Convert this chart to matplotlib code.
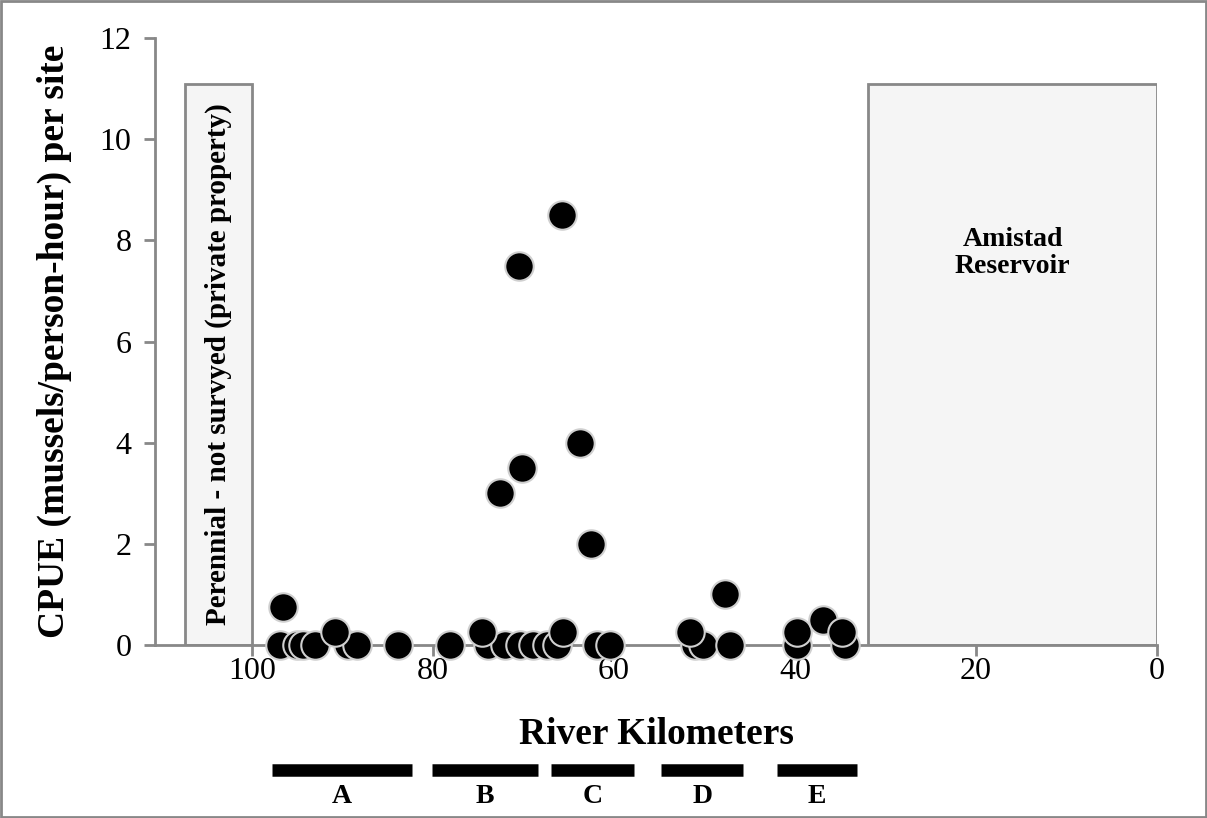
import numpy as np
import matplotlib
matplotlib.use("Agg")
import matplotlib.pyplot as plt
import matplotlib.transforms as mtransforms
from matplotlib.patches import Rectangle

plt.rcParams['font.family'] = ['Liberation Serif', 'DejaVu Serif']

# site data: river km and CPUE
river_km = [96.9, 95.0, 94.4, 93.0, 89.4, 88.4, 83.9, 78.1, 73.9, 72.0,
            70.4, 68.9, 67.4, 66.3, 61.9, 60.4, 51.0, 50.2, 47.2, 39.8, 34.5,
            96.6, 90.8, 74.6, 65.6, 51.6, 47.7, 39.8, 36.9, 34.8,
            70.5, 65.7, 63.8, 70.1, 72.6, 62.5]
cpue = [0, 0, 0, 0, 0, 0, 0, 0, 0, 0,
        0, 0, 0, 0, 0, 0, 0, 0, 0, 0, 0,
        0.75, 0.25, 0.25, 0.25, 0.25, 1.0, 0.25, 0.5, 0.25,
        7.5, 8.5, 4.0, 3.5, 3.0, 2.0]

# river reaches shown under the axis
reach_names = ['A', 'B', 'C', 'D', 'E']
reach_start = [97.8, 80.1, 67.0, 54.8, 42.0]
reach_end = [82.3, 68.4, 57.8, 45.7, 33.1]

# shaded areas
perennial_span = (100.0, 107.4)
reservoir_span = (0.0, 31.9)
box_top = 11.1

fig = plt.figure(figsize=(12.07, 8.18), dpi=100)
ax = fig.add_axes([0.1284, 0.2115, 0.8302, 0.742])

gray = '#888888'
for lo, hi in (perennial_span, reservoir_span):
    ax.add_patch(Rectangle((lo, 0), hi - lo, box_top, facecolor='#f5f5f5',
                           edgecolor=gray, linewidth=2, zorder=1))

ax.text(np.mean(perennial_span), 5.55, 'Perennial - not survyed (private property)',
        rotation=90, ha='center', va='center', fontsize=21, fontweight='bold', zorder=2)
ax.text(np.mean(reservoir_span), 7.75, 'Amistad\nReservoir', ha='center', va='center',
        fontsize=20, fontweight='bold', linespacing=1.1, zorder=2)

ax.scatter(river_km, cpue, s=420, c='black', edgecolors='#d0d0d0', linewidths=1.5,
           zorder=3, clip_on=False)

ax.set_xlim(110.7, 0)
ax.set_ylim(0, 12)
ax.set_xticks([100, 80, 60, 40, 20, 0])
ax.set_yticks([0, 2, 4, 6, 8, 10, 12])
ax.tick_params(axis='both', labelsize=23, color=gray, width=2, length=8, direction='out')
ax.tick_params(axis='x', pad=1)
ax.tick_params(axis='y', pad=9)
for side in ('top', 'right'):
    ax.spines[side].set_visible(False)
for side in ('left', 'bottom'):
    ax.spines[side].set_color(gray)
    ax.spines[side].set_linewidth(2)

ax.set_xlabel('River Kilometers', fontsize=27, fontweight='bold', labelpad=22)
ax.set_ylabel('CPUE (mussels/person-hour) per site', fontsize=27, fontweight='bold',
              labelpad=20)

trans = mtransforms.blended_transform_factory(ax.transData, ax.transAxes)
for name, a, b in zip(reach_names, reach_start, reach_end):
    ax.plot([a, b], [-0.206, -0.206], color='black', linewidth=9, solid_capstyle='butt',
            transform=trans, clip_on=False)
    ax.text((a + b) / 2, -0.25, name, transform=trans, ha='center', va='center',
            fontsize=20, fontweight='bold')

fig.patches.append(Rectangle((0.001, 0.001), 0.998, 0.998, transform=fig.transFigure,
                             fill=False, edgecolor=gray, linewidth=2))

fig.savefig('out.png', dpi=100)
